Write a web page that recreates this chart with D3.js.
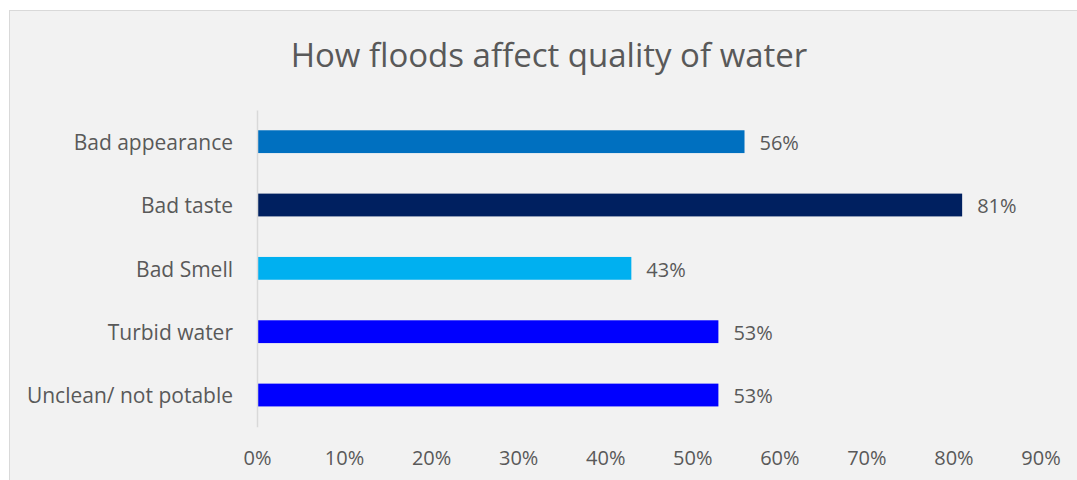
<!DOCTYPE html>
<html>
<head>
<meta charset="utf-8">
<script src="https://cdn.jsdelivr.net/npm/d3@7"></script>
<style>
  html, body { margin: 0; padding: 0; background: #ffffff; }
  svg { display: block; }
  text { font-family: "Open Sans", "Liberation Sans", sans-serif; fill: #595959; }
</style>
</head>
<body>
<svg id="chart" width="1077" height="480"></svg>
<script>
// Survey responses: share of households reporting each water-quality problem
const categories = ["Bad appearance", "Bad taste", "Bad Smell", "Turbid water", "Unclean/ not potable"];
const values = [0.56, 0.81, 0.43, 0.53, 0.53];
const barColors = ["#0070c0", "#002060", "#00b0f0", "#0000ff", "#0000ff"];
const tickValues = [0, 0.1, 0.2, 0.3, 0.4, 0.5, 0.6, 0.7, 0.8, 0.9];
const title = "How floods affect quality of water";

const svg = d3.select("#chart");
const W = 1077, H = 480;

// chart area panel
svg.append("rect")
  .attr("x", 9.5).attr("y", 10.5)
  .attr("width", W + 10).attr("height", H + 10)
  .attr("fill", "#f2f2f2").attr("stroke", "#d9d9d9").attr("stroke-width", 1);

const plot = { left: 257, right: 1040.5, top: 110, bottom: 426.7 };

const x = d3.scaleLinear().domain([0, 0.9]).range([plot.left, plot.right]);
const y = d3.scaleBand().domain(categories).range([plot.top, plot.bottom]).paddingInner(0.64).paddingOuter(0.32);

svg.append("text")
  .attr("x", 549).attr("y", 67)
  .attr("text-anchor", "middle")
  .style("font-size", "33px")
  .text(title);

// bars
svg.selectAll("rect.bar").data(categories).join("rect")
  .attr("class", "bar")
  .attr("x", x(0))
  .attr("y", d => y(d))
  .attr("width", (d, i) => x(values[i]) - x(0))
  .attr("height", y.bandwidth())
  .attr("fill", (d, i) => barColors[i]);

// value labels
svg.selectAll("text.val").data(categories).join("text")
  .attr("class", "val")
  .attr("x", (d, i) => x(values[i]) + 15)
  .attr("y", d => y(d) + y.bandwidth() / 2 + 1)
  .attr("dy", "0.36em")
  .style("font-size", "20px")
  .text((d, i) => d3.format(".0%")(values[i]));

// category axis
const yAxis = svg.append("g").attr("transform", `translate(${plot.left},0)`)
  .call(d3.axisLeft(y).tickSize(0).tickPadding(24));
yAxis.select(".domain").attr("stroke", "#d9d9d9").attr("stroke-width", 1.5);
yAxis.selectAll("text").style("font-size", "21px").attr("fill", "#595959").style("font-family", null)
  .attr("dy", "0.4em");

// value axis (labels only)
const xAxis = svg.append("g").attr("transform", `translate(0,${plot.bottom})`)
  .call(d3.axisBottom(x).tickValues(tickValues).tickFormat(d3.format(".0%")).tickSize(0).tickPadding(24));
xAxis.select(".domain").remove();
xAxis.selectAll("text").style("font-size", "20px").attr("fill", "#595959").style("font-family", null);
</script>
</body>
</html>
